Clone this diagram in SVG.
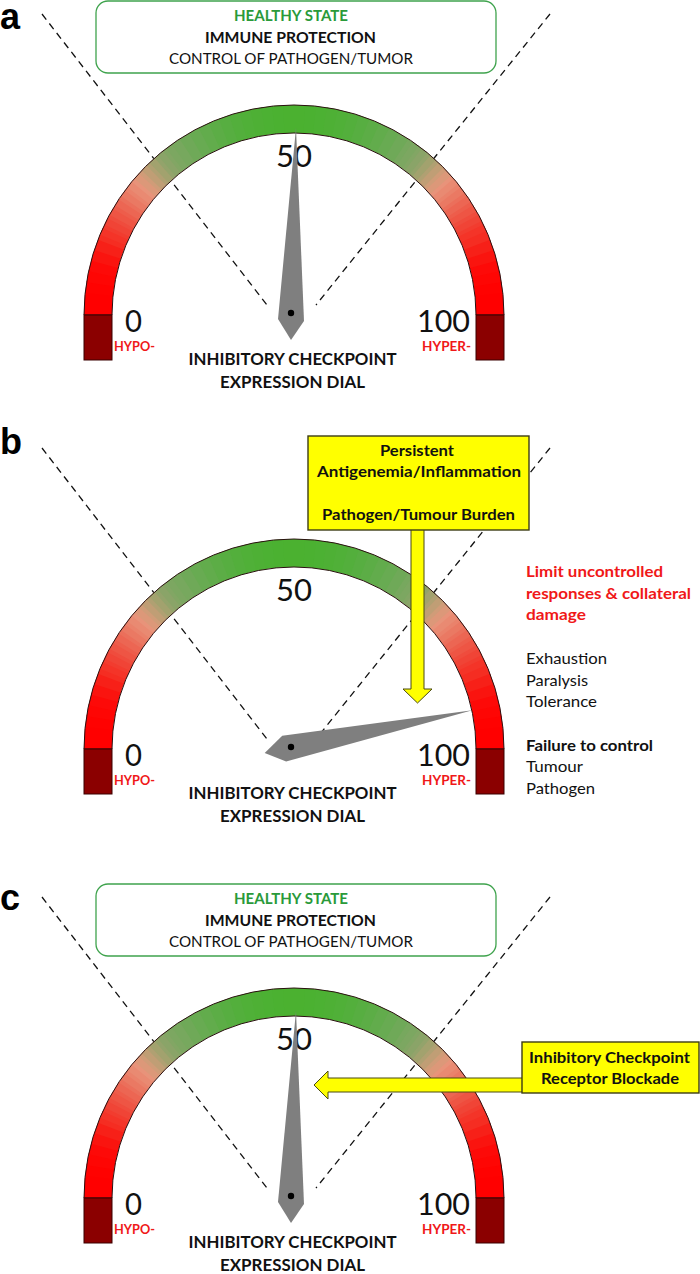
<svg xmlns="http://www.w3.org/2000/svg" width="700" height="1274" viewBox="0 0 700 1274">
<style>
text{font-family:Lato,"Open Sans",sans-serif;fill:#111}
.bd{font-weight:700}
.panel-label{font-family:"Liberation Sans",Arial,sans-serif;font-weight:700;font-size:36px;fill:#000}
.t16{font-size:16px}
.t15{font-size:15.5px}
.num{font-size:31.5px}
.hy{font-size:12.5px;font-weight:700;fill:#f01818}
.dial-title{font-size:17.5px;font-weight:700}
.green{fill:#2a9a3a}
.red{fill:#f01818}
.dash{stroke:#111;stroke-width:1.3;stroke-dasharray:7 5;fill:none}
.hbox{fill:#fff;stroke:#3fa34d;stroke-width:1.3}
.ybox{fill:#ffff00;stroke:#3c3c14;stroke-width:1.4}
.yarrow{fill:#ffff00;stroke:#4a4a10;stroke-width:1}
.needle{fill:#7f7f7f}
.outline{fill:none;stroke:#2b1010;stroke-width:1}
.block{fill:#8b0000;stroke:#3a0000;stroke-width:1}
</style>
<defs>
<path id="seg" d="M-210 0A210 210 0 0 1-209.63-12.46L-181.68-10.79A182 182 0 0 0-182 0Z"/>
<path id="seg-half" d="M-210 0A210 210 0 0 1-209.88-6.96L-181.90-6.03A182 182 0 0 0-182 0Z"/>
<g id="dial">
<use href="#seg" transform="rotate(0)" fill="#ff0000"/>
<use href="#seg" transform="rotate(3)" fill="#ff0000"/>
<use href="#seg" transform="rotate(6)" fill="#ff0201"/>
<use href="#seg" transform="rotate(9)" fill="#fe0604"/>
<use href="#seg" transform="rotate(12)" fill="#fd0a08"/>
<use href="#seg" transform="rotate(15)" fill="#fa140f"/>
<use href="#seg" transform="rotate(18)" fill="#f72018"/>
<use href="#seg" transform="rotate(21)" fill="#f52d22"/>
<use href="#seg" transform="rotate(24)" fill="#f23c2f"/>
<use href="#seg" transform="rotate(27)" fill="#ef4c3d"/>
<use href="#seg" transform="rotate(30)" fill="#ed5d4b"/>
<use href="#seg" transform="rotate(33)" fill="#eb6f5b"/>
<use href="#seg" transform="rotate(36)" fill="#ea826b"/>
<use href="#seg" transform="rotate(39)" fill="#e8937a"/>
<use href="#seg" transform="rotate(42)" fill="#d09c78"/>
<use href="#seg" transform="rotate(45)" fill="#b0a072"/>
<use href="#seg" transform="rotate(48)" fill="#93a36b"/>
<use href="#seg" transform="rotate(51)" fill="#82a664"/>
<use href="#seg" transform="rotate(54)" fill="#77a85e"/>
<use href="#seg" transform="rotate(57)" fill="#6fa958"/>
<use href="#seg" transform="rotate(60)" fill="#68ab52"/>
<use href="#seg" transform="rotate(63)" fill="#62ac4c"/>
<use href="#seg" transform="rotate(66)" fill="#5cad46"/>
<use href="#seg" transform="rotate(69)" fill="#57ae41"/>
<use href="#seg" transform="rotate(72)" fill="#53af3c"/>
<use href="#seg" transform="rotate(75)" fill="#50b038"/>
<use href="#seg" transform="rotate(78)" fill="#4eb035"/>
<use href="#seg" transform="rotate(81)" fill="#4cb133"/>
<use href="#seg" transform="rotate(84)" fill="#4bb131"/>
<use href="#seg" transform="rotate(87)" fill="#4bb130"/>
<use href="#seg" transform="rotate(90)" fill="#4bb130"/>
<use href="#seg" transform="rotate(93)" fill="#4bb131"/>
<use href="#seg" transform="rotate(96)" fill="#4cb133"/>
<use href="#seg" transform="rotate(99)" fill="#4eb035"/>
<use href="#seg" transform="rotate(102)" fill="#50b038"/>
<use href="#seg" transform="rotate(105)" fill="#53af3c"/>
<use href="#seg" transform="rotate(108)" fill="#57ae41"/>
<use href="#seg" transform="rotate(111)" fill="#5cad46"/>
<use href="#seg" transform="rotate(114)" fill="#62ac4c"/>
<use href="#seg" transform="rotate(117)" fill="#68ab52"/>
<use href="#seg" transform="rotate(120)" fill="#6fa958"/>
<use href="#seg" transform="rotate(123)" fill="#77a85e"/>
<use href="#seg" transform="rotate(126)" fill="#82a664"/>
<use href="#seg" transform="rotate(129)" fill="#93a36b"/>
<use href="#seg" transform="rotate(132)" fill="#b0a072"/>
<use href="#seg" transform="rotate(135)" fill="#d09c78"/>
<use href="#seg" transform="rotate(138)" fill="#e8937a"/>
<use href="#seg" transform="rotate(141)" fill="#ea826b"/>
<use href="#seg" transform="rotate(144)" fill="#eb6f5b"/>
<use href="#seg" transform="rotate(147)" fill="#ed5d4b"/>
<use href="#seg" transform="rotate(150)" fill="#ef4c3d"/>
<use href="#seg" transform="rotate(153)" fill="#f23c2f"/>
<use href="#seg" transform="rotate(156)" fill="#f52d22"/>
<use href="#seg" transform="rotate(159)" fill="#f72018"/>
<use href="#seg" transform="rotate(162)" fill="#fa140f"/>
<use href="#seg" transform="rotate(165)" fill="#fd0a08"/>
<use href="#seg" transform="rotate(168)" fill="#fe0604"/>
<use href="#seg" transform="rotate(171)" fill="#ff0201"/>
<use href="#seg" transform="rotate(174)" fill="#ff0000"/>
<use href="#seg" transform="rotate(177)" fill="#ff0000"/>
<use href="#seg-half" transform="rotate(22.5)" fill="#f43428"/>
<use href="#seg-half" transform="rotate(25.5)" fill="#f04436"/>
<use href="#seg-half" transform="rotate(28.5)" fill="#ee5544"/>
<use href="#seg-half" transform="rotate(31.5)" fill="#ec6653"/>
<use href="#seg-half" transform="rotate(34.5)" fill="#ea7963"/>
<use href="#seg-half" transform="rotate(37.5)" fill="#e98a72"/>
<use href="#seg-half" transform="rotate(40.5)" fill="#dc9879"/>
<use href="#seg-half" transform="rotate(43.5)" fill="#c09e75"/>
<use href="#seg-half" transform="rotate(46.5)" fill="#a2a26e"/>
<use href="#seg-half" transform="rotate(49.5)" fill="#8aa468"/>
<use href="#seg-half" transform="rotate(52.5)" fill="#7ca761"/>
<use href="#seg-half" transform="rotate(124.5)" fill="#7ca761"/>
<use href="#seg-half" transform="rotate(127.5)" fill="#8aa468"/>
<use href="#seg-half" transform="rotate(130.5)" fill="#a2a26e"/>
<use href="#seg-half" transform="rotate(133.5)" fill="#c09e75"/>
<use href="#seg-half" transform="rotate(136.5)" fill="#dc9879"/>
<use href="#seg-half" transform="rotate(139.5)" fill="#e98a72"/>
<use href="#seg-half" transform="rotate(142.5)" fill="#ea7963"/>
<use href="#seg-half" transform="rotate(145.5)" fill="#ec6653"/>
<use href="#seg-half" transform="rotate(148.5)" fill="#ee5544"/>
<use href="#seg-half" transform="rotate(151.5)" fill="#f04436"/>
<use href="#seg-half" transform="rotate(154.5)" fill="#f43428"/>
<path class="outline" d="M-210 0A210 210 0 0 1 210 0L182 0A182 182 0 0 0-182 0Z"/>
<rect class="block" x="-210" y="0" width="28" height="45"/>
<rect class="block" x="182" y="0" width="28" height="45"/>
</g>
<polygon id="needle-shape" class="needle" points="5,-185 13,8 0,27 -13,6"/>
<g id="dial-labels">
<text class="num" x="276" y="167" textLength="36" lengthAdjust="spacingAndGlyphs">50</text>
<text class="num" x="125" y="332" textLength="17" lengthAdjust="spacingAndGlyphs">0</text>
<text class="num" x="417" y="332" textLength="53" lengthAdjust="spacingAndGlyphs">100</text>
<text class="hy" x="114" y="351" textLength="41" lengthAdjust="spacingAndGlyphs">HYPO-</text>
<text class="hy" x="422" y="351" textLength="49" lengthAdjust="spacingAndGlyphs">HYPER-</text>
<text class="dial-title" x="188.5" y="365" textLength="208" lengthAdjust="spacingAndGlyphs">INHIBITORY CHECKPOINT</text>
<text class="dial-title" x="220" y="388" textLength="145" lengthAdjust="spacingAndGlyphs">EXPRESSION DIAL</text>
</g>
<g id="healthy-box">
<rect class="hbox" x="96" y="1" width="400" height="72" rx="12"/>
<text class="t16 bd green" x="234" y="21" textLength="114" lengthAdjust="spacingAndGlyphs">HEALTHY STATE</text>
<text class="t16 bd" x="205" y="43" textLength="171" lengthAdjust="spacingAndGlyphs">IMMUNE PROTECTION</text>
<text class="t16" x="169" y="64" textLength="244" lengthAdjust="spacingAndGlyphs">CONTROL OF PATHOGEN/TUMOR</text>
</g>
</defs>
<rect width="700" height="1274" fill="#fff"/>

<!-- Panel a -->
<g id="panel-a">
<text class="panel-label" x="0" y="29">a</text>
<g id="guides-a">
<line class="dash" x1="42" y1="14" x2="267" y2="305"/>
<line class="dash" x1="550" y1="14" x2="316" y2="305"/>
</g>
<use id="healthy-a" href="#healthy-box"/>
<use id="dial-a" href="#dial" transform="translate(294,315)"/>
<use id="labels-a" href="#dial-labels"/>
<g id="needle-a"><use href="#needle-shape" transform="translate(291,313)"/><circle cx="291" cy="313" r="3.2" fill="#000"/></g>
</g>

<!-- Panel b -->
<g id="panel-b">
<text class="panel-label" x="0" y="454">b</text>
<g id="guides-b" transform="translate(0,434)">
<line class="dash" x1="42" y1="14" x2="267" y2="305"/>
<line class="dash" x1="550" y1="14" x2="316" y2="305"/>
</g>
<use id="dial-b" href="#dial" transform="translate(294,749)"/>
<use id="labels-b" href="#dial-labels" transform="translate(0,434)"/>
<g id="needle-b"><use href="#needle-shape" transform="translate(291,747) rotate(77)"/><circle cx="291" cy="747" r="3.2" fill="#000"/></g>
<g id="effects-b">
<text class="t16 bd red" x="526" y="577" textLength="137" lengthAdjust="spacingAndGlyphs">Limit uncontrolled</text>
<text class="t16 bd red" x="526" y="599" textLength="165" lengthAdjust="spacingAndGlyphs">responses &amp; collateral</text>
<text class="t16 bd red" x="526" y="620" textLength="60" lengthAdjust="spacingAndGlyphs">damage</text>
<text class="t16" x="526" y="664" textLength="81" lengthAdjust="spacingAndGlyphs">Exhaustion</text>
<text class="t16" x="526" y="686" textLength="62" lengthAdjust="spacingAndGlyphs">Paralysis</text>
<text class="t16" x="526" y="707" textLength="71" lengthAdjust="spacingAndGlyphs">Tolerance</text>
<text class="t16 bd" x="526" y="751" textLength="127" lengthAdjust="spacingAndGlyphs">Failure to control</text>
<text class="t16" x="526" y="772" textLength="57" lengthAdjust="spacingAndGlyphs">Tumour</text>
<text class="t16" x="526" y="794" textLength="69" lengthAdjust="spacingAndGlyphs">Pathogen</text>
</g>
</g>

<!-- Panel c -->
<g id="panel-c">
<text class="panel-label" x="0" y="910">c</text>
<g id="guides-c" transform="translate(0,883)">
<line class="dash" x1="42" y1="14" x2="267" y2="305"/>
<line class="dash" x1="550" y1="14" x2="316" y2="305"/>
</g>
<use id="healthy-c" href="#healthy-box" transform="translate(0,883)"/>
<use id="dial-c" href="#dial" transform="translate(294,1198)"/>
<use id="labels-c" href="#dial-labels" transform="translate(0,883)"/>
<g id="needle-c"><use href="#needle-shape" transform="translate(291,1196)"/><circle cx="291" cy="1196" r="3.2" fill="#000"/></g>
</g>

<!-- Connectors -->
<g id="connectors">
<polygon class="yarrow" points="411,529 424,529 424,689 432,689 417.5,703 403,689 411,689"/>
<polygon class="yarrow" points="523,1078 328,1078 328,1071 314,1085 328,1099 328,1092 523,1092"/>
</g>

<g id="burden-box">
<rect class="ybox" x="308" y="436" width="221" height="94"/>
<text class="t15 bd" x="380" y="456" textLength="74" lengthAdjust="spacingAndGlyphs">Persistent</text>
<text class="t15 bd" x="317" y="477" textLength="204" lengthAdjust="spacingAndGlyphs">Antigenemia/Inflammation</text>
<text class="t15 bd" x="322" y="520" textLength="193" lengthAdjust="spacingAndGlyphs">Pathogen/Tumour Burden</text>
</g>
<g id="blockade-box">
<rect class="ybox" x="522" y="1042" width="177" height="51"/>
<text class="t16 bd" x="529" y="1063" textLength="161" lengthAdjust="spacingAndGlyphs">Inhibitory Checkpoint</text>
<text class="t16 bd" x="541" y="1084" textLength="138" lengthAdjust="spacingAndGlyphs">Receptor Blockade</text>
</g>
</svg>
